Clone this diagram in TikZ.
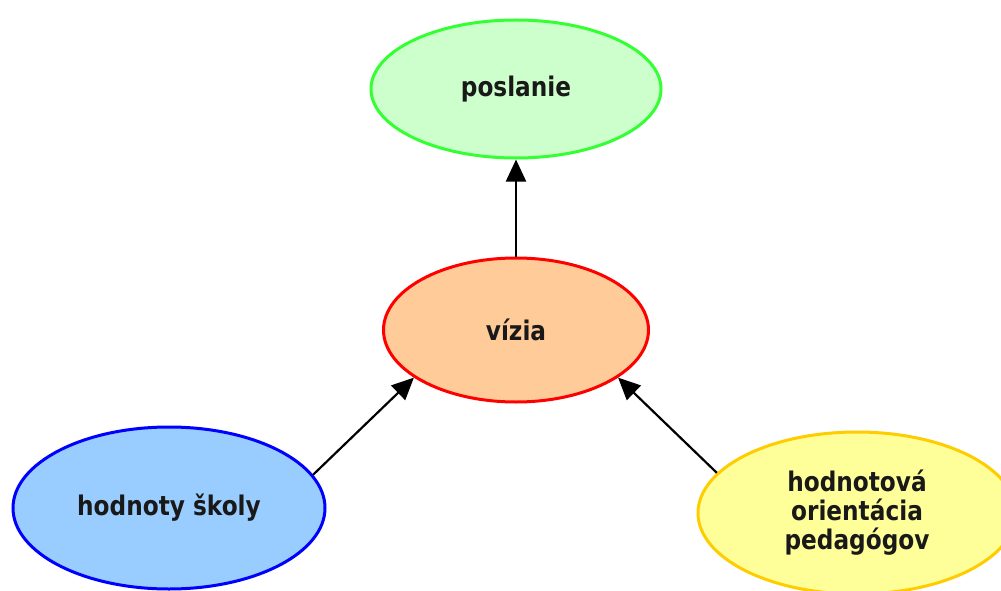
\documentclass[tikz,border=0pt]{standalone}
\usepackage{fontspec}
\newfontfamily\labfont{DejaVu Sans}[FakeStretch=0.86]
\usetikzlibrary{shapes.geometric,arrows.meta}
\definecolor{gline}{HTML}{33FF33}
\definecolor{gfill}{HTML}{CCFFCC}
\definecolor{rline}{HTML}{FF0000}
\definecolor{rfill}{HTML}{FFCC99}
\definecolor{bline}{HTML}{0000FF}
\definecolor{bfill}{HTML}{99CCFF}
\definecolor{yline}{HTML}{FFCC00}
\definecolor{yfill}{HTML}{FFFF99}
\tikzset{
  blob/.style={ellipse, line width=3pt, inner sep=0pt, align=center,
    font=\labfont\bfseries\fontsize{27}{29}\selectfont, text=black!90},
  arr/.style={line width=2.2pt, -{Triangle[length=22pt,width=20pt]}}
}
\begin{document}
\begin{tikzpicture}[x=1pt,y=-1pt]
\useasboundingbox (0,0) rectangle (1001,591);
\clip (0,0) rectangle (1001,591);
\fill[white] (0,0) rectangle (1001,591);
\node[blob, draw=gline, fill=gfill, minimum width=290pt, minimum height=138pt] (p) at (516,89) {poslanie};
\node[blob, draw=rline, fill=rfill, minimum width=265pt, minimum height=144pt] (v) at (516,330) {vízia};
\node[blob, draw=bline, fill=bfill, minimum width=312pt, minimum height=162pt] (b) at (169,508) {hodnoty školy};
\node[blob, draw=yline, fill=yfill, minimum width=318pt, minimum height=162pt] (y) at (857,513) {hodnotová\\orientácia\\pedagógov};
\draw[arr] (v.north) -- (p.south);
\draw[arr] (b.13) -- (v.205);
\draw[arr] (y.164.5) -- (v.335);
\end{tikzpicture}
\end{document}
